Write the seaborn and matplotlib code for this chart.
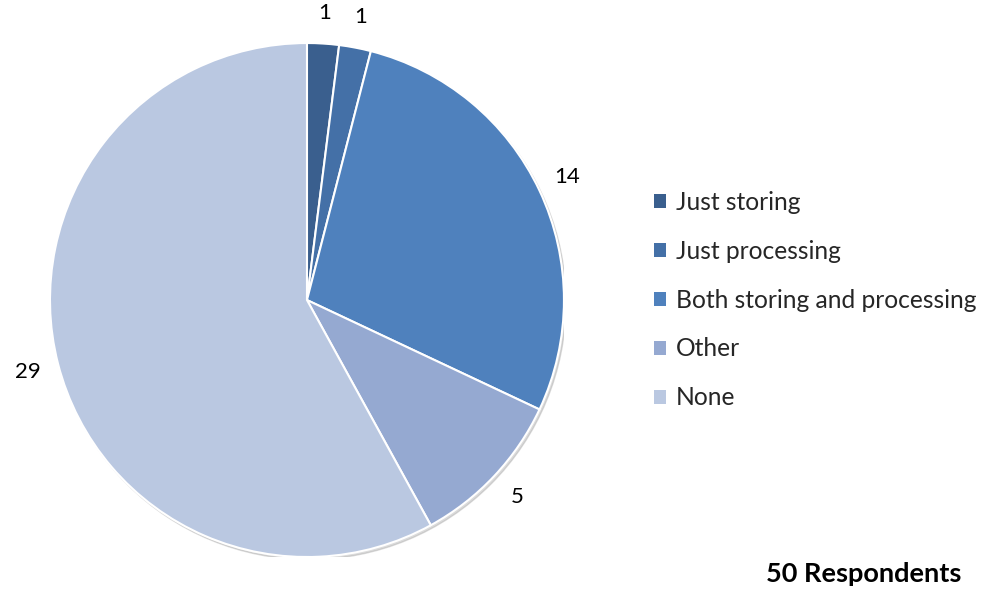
import matplotlib
matplotlib.use("Agg")
import matplotlib.pyplot as plt
import matplotlib.patches as mpatches
import seaborn as sns

categories = ["Just storing", "Just processing", "Both storing and processing", "Other", "None"]
counts = [1, 1, 14, 5, 29]
colors = ["#3A5F8E", "#4470A7", "#4F81BD", "#95A9D1", "#BAC8E1"]
footnote = "50 Respondents"

sns.set_theme(style="white")
plt.rcParams["font.family"] = ["Lato", "DejaVu Sans"]

fig = plt.figure(figsize=(9.82, 5.92), dpi=100)
ax = fig.add_axes([0.0509, 0.0591, 0.5234, 0.8682])

# soft drop shadow under the pie
shadow = mpatches.Circle((0.008, -0.010), 1.0, color="#9a9a9a", alpha=0.35, zorder=0)
ax.add_patch(shadow)

total = sum(counts)
wedges, texts, autotexts = ax.pie(
    counts,
    colors=colors,
    startangle=90,
    counterclock=False,
    radius=1.0,
    autopct=lambda p: f"{round(p * total / 100):d}",
    pctdistance=1.12,
    wedgeprops=dict(edgecolor="white", linewidth=1.5),
    textprops=dict(fontsize=16, color="black"),
)
for w in wedges:
    w.set_zorder(1)
ax.set_xlim(-1.0, 1.0)
ax.set_ylim(-1.0, 1.0)
ax.set_aspect("equal")
ax.axis("off")

handles = [mpatches.Patch(facecolor=c, edgecolor="none") for c in colors]
fig.legend(
    handles, categories,
    loc="center left", bbox_to_anchor=(0.666, 0.493),
    frameon=False, fontsize=17.7,
    handlelength=0.5, handleheight=0.5, handletextpad=0.38,
    labelspacing=1.05,
    borderpad=0.0, borderaxespad=0.0,
)

fig.text(0.979, 0.010, footnote, ha="right", va="bottom", fontsize=19.5, fontweight="bold",
         color="black")

fig.savefig("out.png", dpi=100)
